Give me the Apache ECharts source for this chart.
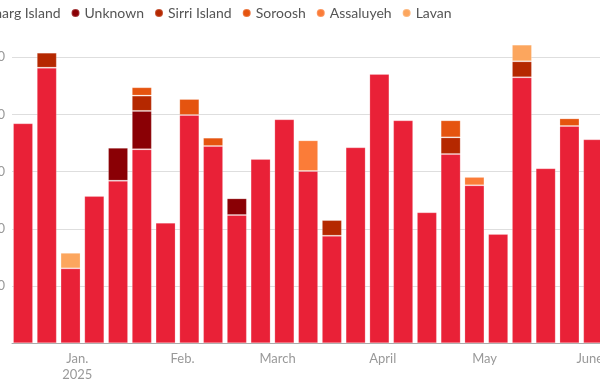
<!DOCTYPE html>
<html>
<head>
<meta charset="utf-8">
<style>
  html, body { margin: 0; padding: 0; background: #fff; }
  #chart { width: 600px; height: 382px; }
</style>
<script src="https://cdn.jsdelivr.net/npm/echarts@6/dist/echarts.min.js"></script>
</head>
<body>
<div id="chart"></div>
<script>
// Weekly loadings (thousand barrels per day) by terminal
const weeks = ['2024-12-16','2024-12-23','2024-12-30','2025-01-06','2025-01-13','2025-01-20','2025-01-27',
  '2025-02-03','2025-02-10','2025-02-17','2025-02-24','2025-03-03','2025-03-10','2025-03-17','2025-03-24',
  '2025-03-31','2025-04-07','2025-04-14','2025-04-21','2025-04-28','2025-05-05','2025-05-12','2025-05-19',
  '2025-05-26','2025-06-02'];
const kharg =     [1923, 2409, 655, 1287, 1421, 1696, 1054, 1995, 1724, 1121, 1611, 1958, 1506, 940, 1713, 2354, 1949, 1145, 1654, 1381, 955, 2325, 1530, 1899, 1783];
const unknown =   [null, null, null, null, 288, 335, null, null, null, 146, null, null, null, null, null, null, null, null, null, null, null, null, null, null, null];
const sirri =     [null, 131, null, null, null, 134, null, null, null, null, null, null, null, 137, null, null, null, null, 146, null, null, 140, null, null, null];
const soroosh =   [null, null, null, null, null, 73, null, 140, 73, null, null, null, null, null, null, null, null, null, 149, null, null, null, null, 67, null];
const assaluyeh = [null, null, null, null, null, null, null, null, null, null, null, null, 268, null, null, null, null, null, null, 73, null, null, null, null, null];
const lavan =     [null, null, 136, null, null, null, null, null, null, null, null, null, null, null, null, null, null, null, null, null, null, 145, null, null, null];
const seriesNames = ['Kharg Island', 'Unknown', 'Sirri Island', 'Soroosh', 'Assaluyeh', 'Lavan'];
const monthLabels = ['Jan.\n2025', 'Feb.', 'March', 'April', 'May', 'June', 'July', 'Aug.', 'Sept.', 'Oct.', 'Nov.', 'Dec.'];
const yTicks = [500, 1000, 1500, 2000, 2500];

const colors = ['#e92137', '#8a0005', '#b52800', '#e5540f', '#fb7c38', '#fca65e'];
const FONT = 'Lato';

function ts(s) { const p = s.split('-').map(Number); return Date.UTC(p[0], p[1] - 1, p[2]); }
const allSeries = [kharg, unknown, sirri, soroosh, assaluyeh, lavan];

// desired visible time window (left edge of plot to right edge of canvas)
const targetMin = Date.UTC(2024, 11, 12, 18);
const targetMax = Date.UTC(2025, 5, 4);
const GRID_LEFT = 12, GRID_RIGHT_PX = 600;

const chart = echarts.init(document.getElementById('chart'), null, { renderer: 'canvas' });

function buildOption(xmin, xmax) {
  return {
    useUTC: true,
    animation: false,
    color: colors,
    textStyle: { fontFamily: FONT },
    legend: {
      left: -34,
      top: 1,
      icon: 'circle',
      itemWidth: 8,
      itemHeight: 8,
      itemGap: 10,
      textStyle: { fontFamily: FONT, fontSize: 14, color: '#555' },
      data: seriesNames
    },
    grid: { left: GRID_LEFT, right: 0, top: 11.5, bottom: 38.7, containLabel: false, outerBoundsMode: 'none' },
    xAxis: {
      type: 'time',
      min: xmin,
      max: xmax,
      splitNumber: 6,
      axisLine: { lineStyle: { color: '#aaa', width: 1 } },
      axisTick: { show: false },
      splitLine: { show: false },
      axisLabel: {
        color: '#999',
        fontFamily: FONT,
        fontSize: 13,
        lineHeight: 16,
        margin: 8,
        showMinLabel: false,
        showMaxLabel: false,
        hideOverlap: false,
        formatter: function (v) {
          const d = new Date(v);
          if (d.getUTCDate() !== 1 || d.getUTCHours() !== 0) return '';
          return monthLabels[d.getUTCMonth()];
        }
      }
    },
    yAxis: {
      type: 'value',
      min: 0,
      max: 2900,
      interval: 500,
      axisLine: { show: false },
      axisTick: { show: false },
      splitLine: { show: true, showMaxLine: false, lineStyle: { color: '#dedede', width: 1 } },
      axisLabel: {
        color: '#999',
        fontFamily: FONT,
        fontSize: 13,
        margin: 7,
        formatter: function (v) {
          return yTicks.indexOf(v) >= 0 ? v.toLocaleString('en-US') : '';
        }
      }
    },
    series: seriesNames.map(function (name, i) {
      return {
        name: name,
        type: 'bar',
        stack: 'total',
        barWidth: 20,
        itemStyle: { color: colors[i], borderColor: 'rgba(255,255,255,0.2)', borderWidth: 1 },
        emphasis: { disabled: true },
        data: weeks.map(function (w, j) { return [ts(w), allSeries[i][j]]; })
      };
    })
  };
}

// Calibrate: the library may pad the time extent for bar width; adjust so the
// visible window matches the target window.
let xmin = targetMin, xmax = targetMax;
for (let k = 0; k < 6; k++) {
  chart.setOption(buildOption(xmin, xmax), true);
  const a = chart.convertFromPixel({ xAxisIndex: 0 }, GRID_LEFT);
  const b = chart.convertFromPixel({ xAxisIndex: 0 }, GRID_RIGHT_PX);
  if (!isFinite(a) || !isFinite(b)) break;
  const da = a - targetMin, db = b - targetMax;
  if (Math.abs(da) < 60000 && Math.abs(db) < 60000) break;
  xmin -= da;
  xmax -= db;
}
</script>
</body>
</html>
